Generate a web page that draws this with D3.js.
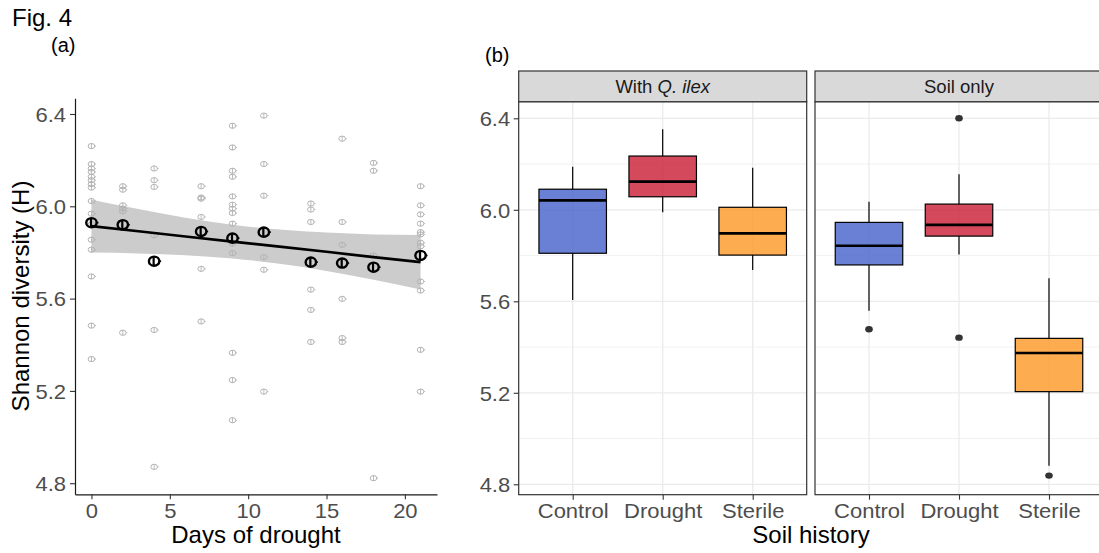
<!DOCTYPE html>
<html>
<head>
<meta charset="utf-8">
<script src="https://cdn.jsdelivr.net/npm/d3@7"></script>
<style>
body{margin:0;background:#fff;}
svg{display:block;font-family:"Liberation Sans",Arial,sans-serif;}
</style>
</head>
<body>
<svg id="fig" width="1099" height="553"></svg>
<script>
// panel (a) data: days of drought, single samples and day means
var days=[0,2,4,7,9,11,14,16,18,21];
var dayValues=[
	[6.261,6.183,6.164,6.149,6.128,6.113,6.096,6.081,6.023,5.968,5.922,5.855,5.812,5.696,5.483,5.338],
	[6.087,6.072,6.004,5.990,5.978,5.452],
	[6.164,6.113,6.084,5.874,5.464,4.871],
	[6.087,6.038,6.033,5.954,5.729,5.501],
	[6.349,6.255,6.154,6.128,6.043,6.007,5.990,5.971,5.925,5.838,5.797,5.365,5.247,5.073],
	[6.393,6.183,6.046,5.780,5.725,5.197],
	[6.012,5.986,5.932,5.639,5.551,5.412],
	[6.293,5.932,5.833,5.599,5.429,5.412],
	[6.188,6.154,5.787,4.822],
	[6.087,6.004,5.965,5.925,5.888,5.878,5.842,5.827,5.674,5.635,5.378,5.197]
];
var dayMeans=[5.929,5.920,5.762,5.891,5.862,5.888,5.758,5.754,5.736,5.787];
// fitted line and confidence band
var fitDays=[0,3,6,9,12,15,18,21];
var fitLine=[5.914,5.892,5.869,5.847,5.825,5.803,5.780,5.758];
var fitUpper=[6.028,5.988,5.950,5.920,5.899,5.886,5.878,5.876];
var fitLower=[5.800,5.796,5.788,5.774,5.751,5.720,5.682,5.640];
var yTicks=[4.8,5.2,5.6,6.0,6.4];
var dayTicks=[0,5,10,15,20];

// panel (b) data
var soilHistory=["Control","Drought","Sterile"];
var facets=["With Q. ilex","Soil only"];
var qilexLow=[5.606,5.989,5.737];
var qilexQ1=[5.810,6.057,5.802];
var qilexMedian=[6.041,6.123,5.897];
var qilexQ3=[6.090,6.235,6.011];
var qilexHigh=[6.188,6.352,6.184];
var qilexOutliers=[[],[],[]];
var soilLow=[5.559,5.805,4.881];
var soilQ1=[5.759,5.885,5.205];
var soilMedian=[5.843,5.934,5.374];
var soilQ3=[5.945,6.025,5.438];
var soilHigh=[6.035,6.155,5.701];
var soilOutliers=[[5.478],[6.400,5.441],[4.838]];

var boxFill={Control:"#4460c9",Drought:"#c91d33",Sterile:"#fc9824"};
var tickSX=1.1;

var svg=d3.select("#fig");

//titles
svg.append("text").attr("x",12).attr("y",26).attr("font-size",24).attr("fill","#000").text("Fig. 4");
svg.append("text").attr("x",51).attr("y",52).attr("font-size",20).attr("fill","#000").text("(a)");
svg.append("text").attr("x",485).attr("y",62).attr("font-size",20).attr("fill","#000").text("(b)");

function styleTicks(g){
	g.selectAll(".tick line").attr("stroke","#333333").attr("stroke-width",1.1);
	g.selectAll(".tick text").attr("fill","#4d4d4d").attr("font-size",20).attr("font-family","Liberation Sans,Arial,sans-serif");
}

// ---------- panel (a)
var xA=d3.scaleLinear().domain([-1.05,22.05]).range([75,437]);
var yA=d3.scaleLinear().domain([4.752,6.468]).range([494.3,98.3]);
var pa=svg.append("g");

var band=[];
for(var i=0;i<fitDays.length;i++){band.push({x:fitDays[i],lo:fitLower[i],hi:fitUpper[i],m:fitLine[i]});}
pa.append("path").datum(band)
	.attr("d",d3.area().curve(d3.curveMonotoneX).x(function(d){return xA(d.x);}).y0(function(d){return yA(d.lo);}).y1(function(d){return yA(d.hi);}))
	.attr("fill","#cccccc");

//single samples
var pts=[];
days.forEach(function(d,i){dayValues[i].forEach(function(v){pts.push({x:d,v:v});});});
var gp=pa.append("g").selectAll("g").data(pts).enter().append("g")
	.attr("transform",function(d){return "translate("+xA(d.x)+","+yA(d.v)+")";});
gp.append("ellipse").attr("rx",3.3).attr("ry",2.6).attr("fill","none").attr("stroke","#b3b3b3").attr("stroke-width",1);
gp.append("line").attr("x1",0).attr("x2",0).attr("y1",-2.6).attr("y2",2.6).attr("stroke","#b3b3b3").attr("stroke-width",0.9);
gp.append("line").attr("x1",3.3).attr("x2",4.6).attr("y1",0).attr("y2",0).attr("stroke","#b3b3b3").attr("stroke-width",0.9);

//regression line
pa.append("path").datum(band)
	.attr("d",d3.line().x(function(d){return xA(d.x);}).y(function(d){return yA(d.m);}))
	.attr("fill","none").attr("stroke","#000").attr("stroke-width",2.7);

//means
var gm=pa.append("g").selectAll("g").data(days).enter().append("g")
	.attr("transform",function(d,i){return "translate("+xA(d)+","+yA(dayMeans[i])+")";});
gm.append("ellipse").attr("rx",5.2).attr("ry",4.6).attr("fill","none").attr("stroke","#000").attr("stroke-width",2.4);
gm.append("line").attr("x1",-0.5).attr("x2",-0.5).attr("y1",-4.6).attr("y2",4.6).attr("stroke","#000").attr("stroke-width",2.2);
gm.append("line").attr("x1",5.2).attr("x2",7).attr("y1",0).attr("y2",0).attr("stroke","#000").attr("stroke-width",1.6);

//axes
var axA=pa.append("g").attr("transform","translate(75,0)")
	.call(d3.axisLeft(yA).tickValues(yTicks).tickFormat(d3.format(".1f")).tickSize(5).tickSizeOuter(0));
axA.select(".domain").attr("stroke","#1a1a1a").attr("stroke-width",1.2);
styleTicks(axA);
axA.selectAll(".tick text").attr("x",-9/tickSX).attr("dy","0.36em").attr("transform","scale("+tickSX+",1)");

var axB=pa.append("g").attr("transform","translate(0,494.3)")
	.call(d3.axisBottom(xA).tickValues(dayTicks).tickSize(5).tickSizeOuter(0));
axB.select(".domain").attr("stroke","#1a1a1a").attr("stroke-width",1.2);
styleTicks(axB);
axB.selectAll(".tick text").attr("y",23.7).attr("dy","0").attr("x",0).attr("transform","scale("+tickSX+",1)");

pa.append("text").attr("x",256).attr("y",543).attr("text-anchor","middle").attr("font-size",24).text("Days of drought");
pa.append("text").attr("transform","translate(29,296) rotate(-90)").attr("text-anchor","middle").attr("font-size",24).text("Shannon diversity (H)");

// ---------- panel (b)
var yB=d3.scaleLinear().domain([4.7545,6.4726]).range([494.7,101.7]);
var panelW=288, panelTop=101.7, panelBottom=494.7;
var panelLeft=[518.7,815];
var xB=d3.scalePoint().domain(soilHistory).range([0,panelW]).padding(0.6);
var boxW=xB.step()*0.75;
var facetStats=[
	{low:qilexLow,q1:qilexQ1,med:qilexMedian,q3:qilexQ3,high:qilexHigh,out:qilexOutliers},
	{low:soilLow,q1:soilQ1,med:soilMedian,q3:soilQ3,high:soilHigh,out:soilOutliers}
];
var minorTicks=[5.0,5.4,5.8,6.2];

facets.forEach(function(f,fi){
	var g=svg.append("g").attr("transform","translate("+panelLeft[fi]+",0)");
	// grid
	g.selectAll("line.minor").data(minorTicks).enter().append("line")
		.attr("x1",0).attr("x2",panelW).attr("y1",function(d){return yB(d);}).attr("y2",function(d){return yB(d);})
		.attr("stroke","#ebebeb").attr("stroke-width",0.7);
	g.selectAll("line.major").data(yTicks).enter().append("line")
		.attr("x1",0).attr("x2",panelW).attr("y1",function(d){return yB(d);}).attr("y2",function(d){return yB(d);})
		.attr("stroke","#ebebeb").attr("stroke-width",1.3);
	g.selectAll("line.vmajor").data(soilHistory).enter().append("line")
		.attr("x1",function(d){return xB(d);}).attr("x2",function(d){return xB(d);}).attr("y1",panelTop).attr("y2",panelBottom)
		.attr("stroke","#ebebeb").attr("stroke-width",1.3);

	var s=facetStats[fi];
	soilHistory.forEach(function(c,ci){
		var cx=xB(c);
		g.append("line").attr("x1",cx).attr("x2",cx).attr("y1",yB(s.high[ci])).attr("y2",yB(s.q3[ci])).attr("stroke","#000").attr("stroke-width",1.2);
		g.append("line").attr("x1",cx).attr("x2",cx).attr("y1",yB(s.q1[ci])).attr("y2",yB(s.low[ci])).attr("stroke","#000").attr("stroke-width",1.2);
		g.append("rect").attr("x",cx-boxW/2).attr("width",boxW)
			.attr("y",yB(s.q3[ci])).attr("height",yB(s.q1[ci])-yB(s.q3[ci]))
			.attr("fill",boxFill[c]).attr("fill-opacity",0.8).attr("stroke","#000").attr("stroke-width",1.2);
		g.append("line").attr("x1",cx-boxW/2).attr("x2",cx+boxW/2).attr("y1",yB(s.med[ci])).attr("y2",yB(s.med[ci]))
			.attr("stroke","#000").attr("stroke-width",2.6);
		s.out[ci].forEach(function(v){
			g.append("ellipse").attr("cx",cx).attr("cy",yB(v)).attr("rx",3.8).attr("ry",3.2).attr("fill","#333333");
		});
	});

	// border and strip
	g.append("rect").attr("x",0).attr("y",panelTop).attr("width",panelW).attr("height",panelBottom-panelTop)
		.attr("fill","none").attr("stroke","#333333").attr("stroke-width",1.2);
	g.append("rect").attr("x",0).attr("y",71).attr("width",panelW).attr("height",panelTop-71)
		.attr("fill","#d9d9d9").attr("stroke","#333333").attr("stroke-width",1.2);
	var st=g.append("text").attr("x",panelW/2).attr("y",92.7).attr("text-anchor","middle").attr("font-size",18.5).attr("fill","#1a1a1a");
	if(fi===0){
		st.append("tspan").text("With ");
		st.append("tspan").attr("font-style","italic").text("Q. ilex");
	}else{
		st.text(f);
	}

	var ax=g.append("g").attr("transform","translate(0,"+panelBottom+")")
		.call(d3.axisBottom(xB).tickSize(5).tickSizeOuter(0));
	ax.select(".domain").remove();
	styleTicks(ax);
	ax.selectAll(".tick text").attr("y",23.3).attr("dy","0").attr("x",0).attr("transform","scale("+tickSX+",1)");

	if(fi===0){
		var ay=g.append("g").call(d3.axisLeft(yB).tickValues(yTicks).tickFormat(d3.format(".1f")).tickSize(5).tickSizeOuter(0));
		ay.select(".domain").remove();
		styleTicks(ay);
		ay.selectAll(".tick text").attr("x",-8.5/tickSX).attr("dy","0.36em").attr("transform","scale("+tickSX+",1)");
	}
});

svg.append("text").attr("x",811).attr("y",543).attr("text-anchor","middle").attr("font-size",24).text("Soil history");
</script>
</body>
</html>
